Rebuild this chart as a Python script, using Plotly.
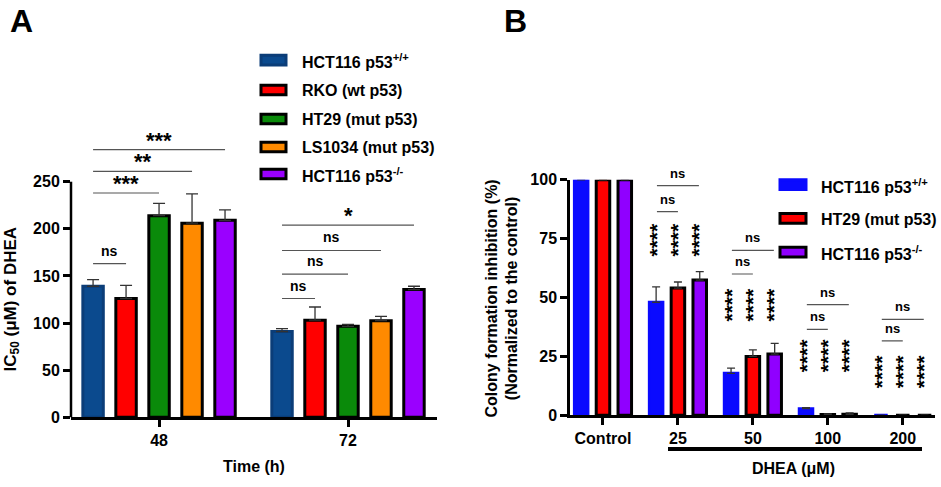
import plotly.graph_objects as go

W, H = 941, 487

# ---- panel A data: IC50 of DHEA
time_labels = ['48', '72']
a_lines = ['HCT116 p53<sup>+/+</sup>', 'RKO (wt p53)', 'HT29 (mut p53)',
           'LS1034 (mut p53)', 'HCT116 p53<sup>-/-</sup>']
a_colors = ['#0b4a8e', '#ff0000', '#0a8a0a', '#ff8a00', '#9a00ff']
a_edges = ['#0b3d78', 'black', 'black', 'black', 'black']
a_hct_wt = [139, 91]
a_rko = [126, 103]
a_ht29 = [214, 96.5]
a_ls1034 = [206, 102.5]
a_hct_ko = [209, 135.5]
a_hct_wt_err = [7, 3]
a_rko_err = [14, 14]
a_ht29_err = [13, 2]
a_ls1034_err = [31, 4.5]
a_hct_ko_err = [11, 3.5]
a_values = [a_hct_wt, a_rko, a_ht29, a_ls1034, a_hct_ko]
a_errors = [a_hct_wt_err, a_rko_err, a_ht29_err, a_ls1034_err, a_hct_ko_err]
a_ticks = [0, 50, 100, 150, 200, 250]
# (group, bar from, bar to, line height, label)
a_sig = [(0, 0, 1, 163, 'ns'), (0, 0, 2, 238, '***'), (0, 0, 3, 261, '**'),
         (0, 0, 4, 284, '***'), (1, 0, 1, 126, 'ns'), (1, 0, 2, 152, 'ns'),
         (1, 0, 3, 177, 'ns'), (1, 0, 4, 204, '*')]

# ---- panel B data: colony formation
dose_labels = ['Control', '25', '50', '100', '200']
b_lines = ['HCT116 p53<sup>+/+</sup>', 'HT29 (mut p53)', 'HCT116 p53<sup>-/-</sup>']
b_colors = ['#0a0aff', '#ff0000', '#9000ff']
b_edges = ['#0a0aff', 'black', 'black']
b_hct_wt = [100, 48, 17.8, 2.8, 0]
b_ht29 = [100, 54, 25, 0.3, 0]
b_hct_ko = [100, 57.4, 26, 0.4, 0]
b_hct_wt_err = [0, 6.5, 2.2, 0.4, 0]
b_ht29_err = [0, 2.6, 2.8, 0.3, 0]
b_hct_ko_err = [0, 3.6, 4.5, 0.6, 0]
b_values = [b_hct_wt, b_ht29, b_hct_ko]
b_errors = [b_hct_wt_err, b_ht29_err, b_hct_ko_err]
b_ticks = [0, 25, 50, 75, 100]
b_star_y = [None, 74.6, 47, 25.4, 18.6]
b_sig = [(1, 0, 1, 86.5), (1, 0, 2, 97.5), (2, 0, 1, 60), (2, 0, 2, 70),
         (3, 0, 1, 36.5), (3, 0, 2, 47), (4, 0, 1, 31.6), (4, 0, 2, 40.7)]

A_GAP, B_GAP = 0.127, 0.16
A_YMAX = 300
FONT = 'Liberation Sans, Arial, sans-serif'

def px_x(p):
    return p / W

def px_y(p):
    return 1 - p / H

def bar_center(group, i, n, gap):
    slot = (1 - gap) / n
    return group + (i - (n - 1) / 2) * slot

fig = go.Figure()

for k in range(len(a_lines)):
    fig.add_trace(go.Bar(
        x=list(range(len(time_labels))), y=a_values[k], name=a_lines[k],
        marker=dict(color=a_colors[k], line=dict(color=a_edges[k], width=3)),
        error_y=dict(type='data', symmetric=False, array=a_errors[k],
                     arrayminus=[0] * len(time_labels), color='#333333',
                     thickness=1.3, width=6),
        xaxis='x', yaxis='y', showlegend=False, cliponaxis=False,
    ))

for k in range(len(b_lines)):
    fig.add_trace(go.Bar(
        x=list(range(len(dose_labels))), y=b_values[k], name=b_lines[k],
        marker=dict(color=b_colors[k], line=dict(color=b_edges[k], width=3)),
        error_y=dict(type='data', symmetric=False, array=b_errors[k],
                     arrayminus=[0] * len(dose_labels), color='#333333',
                     thickness=1.3, width=4),
        xaxis='x2', yaxis='y2', showlegend=False, cliponaxis=False,
    ))

annotations = []
shapes = []

# significance brackets, panel A
for g, i, j, h, lab in a_sig:
    x0 = bar_center(g, i, 5, A_GAP)
    x1 = bar_center(g, j, 5, A_GAP)
    fig.add_trace(go.Scatter(x=[x0, x1], y=[h, h], mode='lines',
                             line=dict(color='#555555', width=1.2),
                             xaxis='x', yaxis='y', showlegend=False,
                             cliponaxis=False, hoverinfo='skip'))
    star = lab != 'ns'
    annotations.append(dict(x=(x0 + x1) / 2, y=h, xref='x', yref='y', text=lab,
                            showarrow=False, xanchor='center', yanchor='bottom',
                            yshift=-5 if star else 3,
                            font=dict(size=22 if star else 14)))

# significance brackets, panel B
for g, i, j, h in b_sig:
    x0 = bar_center(g, i, 3, B_GAP)
    x1 = bar_center(g, j, 3, B_GAP)
    fig.add_trace(go.Scatter(x=[x0, x1], y=[h, h], mode='lines',
                             line=dict(color='#555555', width=1.2),
                             xaxis='x2', yaxis='y2', showlegend=False,
                             cliponaxis=False, hoverinfo='skip'))
    annotations.append(dict(x=(x0 + x1) / 2, y=h, xref='x2', yref='y2', text='ns',
                            showarrow=False, xanchor='center', yanchor='bottom',
                            yshift=3, font=dict(size=13)))

# vertical **** above each treated bar, panel B
for g, sy in enumerate(b_star_y):
    if sy is None:
        continue
    for i in range(3):
        annotations.append(dict(x=bar_center(g, i, 3, B_GAP), y=sy, xref='x2', yref='y2',
                                text='****', showarrow=False, textangle=-90,
                                xanchor='center', yanchor='middle',
                                font=dict(size=21)))

# custom legends
def legend(names, colors, edges, x0, x1, x_text, rows):
    for name, c, e, yc in zip(names, colors, edges, rows):
        shapes.append(dict(type='rect', xref='paper', yref='paper',
                           x0=px_x(x0), x1=px_x(x1), y0=px_y(yc + 5), y1=px_y(yc - 5),
                           fillcolor=c, line=dict(color=e, width=3)))
        annotations.append(dict(x=px_x(x_text), y=px_y(yc + 1), xref='paper', yref='paper',
                                text=name, showarrow=False, xanchor='left',
                                yanchor='middle', font=dict(size=16)))

legend(a_lines, a_colors, a_edges, 261, 286, 300, [54, 85, 115, 144, 172])
legend(b_lines, b_colors, b_edges, 780, 806, 819, [183, 218, 253])

def label(x, y, text, size, angle=0):
    annotations.append(dict(x=px_x(x), y=px_y(y), xref='paper', yref='paper',
                            text=text, showarrow=False, textangle=angle,
                            xanchor='center', yanchor='middle', font=dict(size=size)))

label(12, 302, 'IC<sub>50</sub> (μM) of DHEA', 17, -90)
label(254, 475, 'Time (h)', 16)
label(502, 301, 'Colony formation inhibition (%)<br>(Normalized to the control)', 16, -90)
label(793, 477, 'DHEA (μM)', 16)
label(21, 13, 'A', 32)
label(515, 13, 'B', 32)

shapes.append(dict(type='line', xref='paper', yref='paper',
                   x0=px_x(668), x1=px_x(922), y0=px_y(457), y1=px_y(457),
                   line=dict(color='black', width=4)))

# panel A y-axis line stops at the last tick, not at the top of the range
a_dom = [px_y(424), px_y(424 - A_YMAX * 244 / 250)]
shapes.append(dict(type='line', xref='paper', yref='paper',
                   x0=px_x(71), x1=px_x(71), y0=a_dom[0],
                   y1=a_dom[0] + (a_dom[1] - a_dom[0]) * a_ticks[-1] / A_YMAX,
                   line=dict(color='black', width=2.5)))

axis_style = dict(showline=True, linecolor='black', linewidth=2.5, ticks='outside',
                  ticklen=7, tickwidth=2.5, tickcolor='black', showgrid=False,
                  zeroline=False, tickfont=dict(size=16))

fig.update_layout(
    width=W, height=H,
    margin=dict(l=0, r=0, t=0, b=0),
    paper_bgcolor='white', plot_bgcolor='white',
    font=dict(family=FONT, size=16, color='black', weight='bold'),
    barmode='group',
    bargap=A_GAP, bargroupgap=0.38,
    xaxis=dict(domain=[px_x(71), px_x(437)], range=[-0.466, 1.471],
               tickvals=list(range(len(time_labels))), ticktext=time_labels,
               anchor='y', **axis_style),
    yaxis=dict(domain=a_dom, range=[0, A_YMAX], tickvals=a_ticks, anchor='x',
               **{**axis_style, 'showline': False}),
    xaxis2=dict(domain=[px_x(570), px_x(935)], range=[-0.44, 4.43],
                tickvals=list(range(len(dose_labels))), ticktext=dose_labels,
                anchor='y2', **axis_style),
    yaxis2=dict(domain=[px_y(422), px_y(178)], range=[0, 100],
                tickvals=b_ticks, anchor='x2', **axis_style),
    annotations=annotations,
    shapes=shapes,
)

# the page body has a default 8px margin; drop it so the figure fills the window
fig.write_html('out.html', config={'displayModeBar': False},
               post_script="document.body.style.margin='0px';")
